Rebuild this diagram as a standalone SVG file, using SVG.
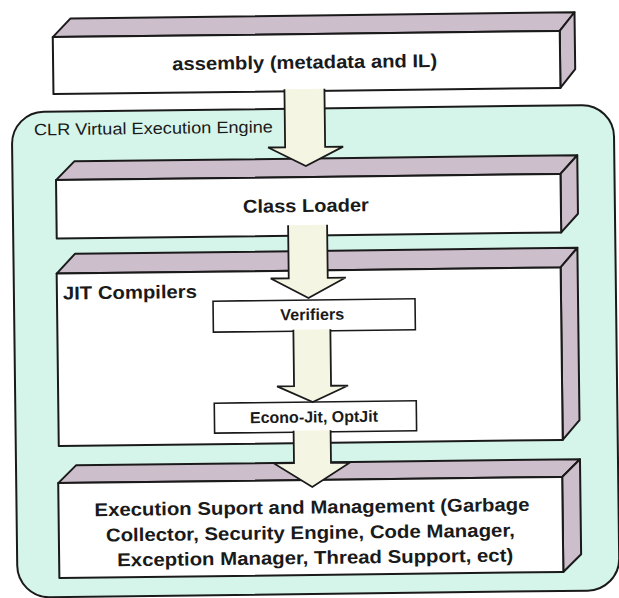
<svg xmlns="http://www.w3.org/2000/svg" width="619" height="598" viewBox="0 0 619 598">
  <style>
    .front{fill:#ffffff;stroke:#1a1a1a;stroke-width:2;stroke-linejoin:round}
    .face{fill:#cdbecc;stroke:#1a1a1a;stroke-width:2;stroke-linejoin:round}
    .engine{fill:#d5f5ea;stroke:#1a1a1a;stroke-width:2}
    .inner{fill:#ffffff;stroke:#1a1a1a;stroke-width:1.6}
    .arrow{fill:#f5f5e3;stroke:#1a1a1a;stroke-width:1.8;stroke-linejoin:miter}
    .lbl{font-family:"Liberation Sans",Arial,sans-serif;font-weight:bold;fill:#1a1a1a}
    .big{font-size:18.5px}
    .small{font-size:16px}
    .caption{font-family:"Liberation Sans",Arial,sans-serif;font-size:16.5px;fill:#1a1a1a}
  </style>
  <rect width="619" height="598" fill="#ffffff"/>
  <g transform="rotate(-0.7 310 300)">
    <!-- container: the virtual execution engine -->
    <g id="clr-engine">
      <rect class="engine" x="14" y="108.5" width="602" height="485.5" rx="32"/>
      <text class="caption" x="36" y="132" textLength="239" lengthAdjust="spacingAndGlyphs">CLR Virtual Execution Engine</text>
    </g>

    <!-- assembly slab -->
    <g id="assembly">
      <polygon class="face" points="56,34 74,15.5 578,15.5 563,34"/>
      <polygon class="face" points="563,34 578,15.5 578,72.5 563,91"/>
      <rect class="front" x="56" y="34" width="507" height="57"/>
      <text class="lbl big" x="175" y="68.5" textLength="265" lengthAdjust="spacingAndGlyphs">assembly (metadata and IL)</text>
    </g>

    <!-- class loader slab -->
    <g id="class-loader">
      <polygon class="face" points="57.5,177 76,158.5 579,158.5 562,177"/>
      <polygon class="face" points="562,177 579,158.5 579,217 562,235.5"/>
      <rect class="front" x="57.5" y="177" width="504.5" height="58.5"/>
      <text class="lbl big" x="244" y="212" textLength="126" lengthAdjust="spacingAndGlyphs">Class Loader</text>
    </g>

    <!-- JIT compilers slab -->
    <g id="jit-compilers">
      <polygon class="face" points="57,270.5 75.5,251 578,251 561,270.5"/>
      <polygon class="face" points="561,270.5 578,251 578,423.5 561,443"/>
      <rect class="front" x="57" y="270.5" width="504" height="172.5"/>
      <text class="lbl big" x="63" y="296.5" textLength="134" lengthAdjust="spacingAndGlyphs">JIT Compilers</text>
    </g>

    <g id="verifiers">
      <rect class="inner" x="213" y="300" width="202" height="31"/>
      <text class="lbl small" x="280" y="320" textLength="64" lengthAdjust="spacingAndGlyphs">Verifiers</text>
    </g>

    <g id="econo-jit">
      <rect class="inner" x="213" y="402" width="202" height="30"/>
      <text class="lbl small" x="248.5" y="422.5" textLength="128" lengthAdjust="spacingAndGlyphs">Econo-Jit, OptJit</text>
    </g>

    <!-- execution support slab -->
    <g id="execution-support">
      <polygon class="face" points="56,480 74,462.5 578,462.5 560,480"/>
      <polygon class="face" points="560,480 578,462.5 578,557.5 560,575"/>
      <rect class="front" x="56" y="480" width="504" height="95"/>
      <text class="lbl big" x="92" y="513.5" textLength="435" lengthAdjust="spacingAndGlyphs">Execution Suport and Management (Garbage</text>
      <text class="lbl big" x="103" y="539" textLength="409" lengthAdjust="spacingAndGlyphs">Collector, Security Engine, Code Manager,</text>
      <text class="lbl big" x="114" y="564" textLength="396" lengthAdjust="spacingAndGlyphs">Exception Manager, Thread Support, ect)</text>
    </g>

    <!-- block arrows; the open top merges into the source box -->
    <g id="connectors">
      <path class="arrow" d="M287,89 V147 H270 L307.5,166 L345,147 H327 V89"/>
      <path class="arrow" d="M289,225 V278 H271 L308.5,298 L346,278 H328 V225"/>
      <path class="arrow" d="M293,329.5 V386 H276 L311.5,402 L347,386 H330 V329.5"/>
      <path class="arrow" d="M292,430.5 V463 H272 L310,487 L348,463 H329 V430.5"/>
    </g>
  </g>
</svg>
